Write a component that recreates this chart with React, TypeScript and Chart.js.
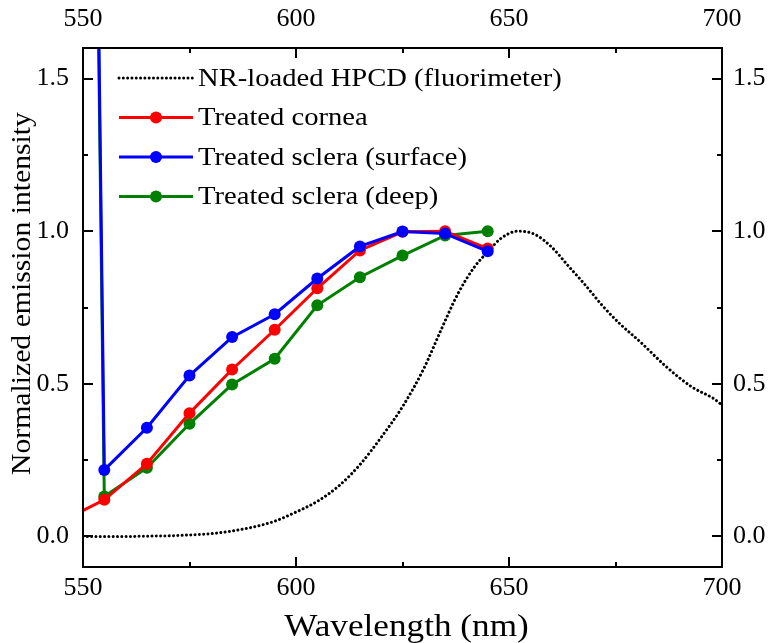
import React, { useEffect, useRef } from "react";
import { Chart, registerables } from "chart.js";

Chart.register(...registerables);

// ---- axis ranges & ticks ----
const X_MIN = 550;
const X_MAX = 700;
const Y_MIN = -0.1;
const Y_MAX = 1.6;
const xTickValues = [550, 600, 650, 700];
const xMinorTickValues = [575, 625, 675];
const yTickValues = [0, 0.5, 1.0, 1.5];
const yMinorTickValues = [0.25, 0.75, 1.25];

// ---- labels ----
const xTitle = "Wavelength (nm)";
const yTitle = "Normalized emission intensity";
const labelHpcd = "NR-loaded HPCD (fluorimeter)";
const labelCornea = "Treated cornea";
const labelSurface = "Treated sclera (surface)";
const labelDeep = "Treated sclera (deep)";

// ---- treated tissue series ----
const treatedWavelengths = [545, 555, 565, 575, 585, 595, 605, 615, 625, 635, 645];
const cornea = [0.05, 0.12, 0.238, 0.404, 0.547, 0.677, 0.813, 0.937, 0.998, 1.0, 0.943];
const scleraSurface = [11.3, 0.218, 0.356, 0.527, 0.653, 0.728, 0.845, 0.95, 0.999, 0.992, 0.934];
const scleraDeep = [11.3, 0.131, 0.225, 0.369, 0.498, 0.582, 0.757, 0.849, 0.92, 0.986, 1.0];

// ---- fluorimeter spectrum ----
const hpcdWavelengths = [550, 555, 560, 565, 570, 575, 580, 585, 590, 595, 600, 605, 610, 615, 620, 625, 630, 634, 638, 642, 645, 648, 652, 656, 660, 664, 668, 672, 676, 681, 687, 693, 698, 700];
const hpcdIntensity = [0, 0, 0, 0.001, 0.002, 0.005, 0.009, 0.018, 0.031, 0.05, 0.08, 0.115, 0.165, 0.235, 0.325, 0.425, 0.55, 0.675, 0.795, 0.885, 0.932, 0.975, 1.0, 0.99, 0.948, 0.885, 0.822, 0.755, 0.697, 0.635, 0.555, 0.489, 0.452, 0.43];

const FONT = "'Liberation Serif', 'Times New Roman', serif";
const RED = "#ff0000";
const BLUE = "#0000ff";
const GREEN = "#008000";

const toPoints = (xs: number[], ys: number[]) => xs.map((x, i) => ({ x, y: ys[i] }));

const legendItems = [
  { label: labelHpcd, color: "#000", dotted: true },
  { label: labelCornea, color: RED, dotted: false },
  { label: labelSurface, color: BLUE, dotted: false },
  { label: labelDeep, color: GREEN, dotted: false },
];

const decorPlugin = {
  id: "decor",
  afterDraw(chart: any) {
    const { ctx, chartArea: a, scales } = chart;
    const xs = scales.x;
    const ys = scales.y;
    ctx.save();
    ctx.strokeStyle = "#000";
    ctx.lineWidth = 2;
    ctx.lineCap = "butt";
    const xTick = (v: number, len: number) => {
      const px = Math.round(xs.getPixelForValue(v));
      ctx.beginPath();
      ctx.moveTo(px, a.bottom);
      ctx.lineTo(px, a.bottom - len);
      ctx.moveTo(px, a.top);
      ctx.lineTo(px, a.top + len);
      ctx.stroke();
    };
    const yTick = (v: number, len: number) => {
      const py = Math.round(ys.getPixelForValue(v));
      ctx.beginPath();
      ctx.moveTo(a.left, py);
      ctx.lineTo(a.left + len, py);
      ctx.moveTo(a.right, py);
      ctx.lineTo(a.right - len, py);
      ctx.stroke();
    };
    xTickValues.forEach((v) => xTick(v, 10));
    xMinorTickValues.forEach((v) => xTick(v, 5));
    yTickValues.forEach((v) => yTick(v, 10));
    yMinorTickValues.forEach((v) => yTick(v, 5));

    // legend
    const rowY0 = a.top + 30;
    const rowGap = 39.5;
    const x0 = a.left + 36;
    const x1 = a.left + 110;
    const textX = a.left + 115;
    legendItems.forEach((it, i) => {
      const y = rowY0 + i * rowGap;
      ctx.save();
      ctx.strokeStyle = it.color;
      if (it.dotted) {
        ctx.lineWidth = 3;
        ctx.lineCap = "round";
        ctx.setLineDash([0.01, 4.3]);
      } else {
        ctx.lineWidth = 3;
      }
      ctx.beginPath();
      ctx.moveTo(x0, y);
      ctx.lineTo(x1, y);
      ctx.stroke();
      if (!it.dotted) {
        ctx.fillStyle = it.color;
        ctx.beginPath();
        ctx.arc((x0 + x1) / 2, y, 6, 0, Math.PI * 2);
        ctx.fill();
      }
      ctx.restore();
      ctx.save();
      ctx.fillStyle = "#000";
      ctx.font = `26px ${FONT}`;
      ctx.textBaseline = "middle";
      ctx.textAlign = "left";
      ctx.translate(textX, y + 1);
      ctx.scale(1.1, 1);
      ctx.fillText(it.label, 0, 0);
      ctx.restore();
    });

    // axis titles
    ctx.fillStyle = "#000";
    ctx.save();
    ctx.font = `32px ${FONT}`;
    ctx.textBaseline = "middle";
    ctx.textAlign = "center";
    ctx.translate((a.left + a.right) / 2 + 4, 628);
    ctx.scale(1.1, 1);
    ctx.fillText(xTitle, 0, 0);
    ctx.restore();

    ctx.save();
    ctx.font = `27px ${FONT}`;
    ctx.textBaseline = "middle";
    ctx.textAlign = "center";
    ctx.translate(23, (a.top + a.bottom) / 2 - 14);
    ctx.rotate(-Math.PI / 2);
    ctx.scale(1.1, 1);
    ctx.fillText(yTitle, 0, 0);
    ctx.restore();

    ctx.restore();
  },
};

export default function App() {
  const canvasRef = useRef<HTMLCanvasElement | null>(null);

  useEffect(() => {
    const canvas = canvasRef.current;
    if (!canvas) return;

    const tickFont = { family: FONT, size: 26 };
    const border = { display: true, color: "#000", width: 2, z: 1 };
    const grid = { display: false, drawTicks: false };

    const xScale = (position: string, height: number, padding: number) => ({
      type: "linear",
      position,
      min: X_MIN,
      max: X_MAX,
      grid,
      border,
      afterBuildTicks: (s: any) => {
        s.ticks = xTickValues.map((v) => ({ value: v }));
      },
      afterFit: (s: any) => {
        s.height = height;
      },
      ticks: {
        autoSkip: false,
        maxRotation: 0,
        font: tickFont,
        color: "#000",
        padding,
        callback: (v: any) => String(v),
      },
    });

    const yScale = (position: string, width: number, padding: number) => ({
      type: "linear",
      position,
      min: Y_MIN,
      max: Y_MAX,
      grid,
      border,
      afterBuildTicks: (s: any) => {
        s.ticks = yTickValues.map((v) => ({ value: v }));
      },
      afterFit: (s: any) => {
        s.width = width;
      },
      ticks: {
        autoSkip: false,
        font: tickFont,
        color: "#000",
        padding,
        callback: (v: any) => Number(v).toFixed(1),
      },
    });

    const lineStyle = (color: string, order: number) => ({
      borderColor: color,
      backgroundColor: color,
      pointBackgroundColor: color,
      pointBorderColor: color,
      borderWidth: 3,
      pointRadius: 6,
      pointBorderWidth: 0,
      tension: 0,
      fill: false,
      clip: 0,
      order,
    });

    const chart = new Chart(canvas, {
      type: "line",
      data: {
        datasets: [
          {
            label: labelHpcd,
            data: toPoints(hpcdWavelengths, hpcdIntensity),
            borderColor: "#000",
            borderWidth: 3,
            borderDash: [0.01, 4.3],
            borderCapStyle: "round",
            pointRadius: 0,
            cubicInterpolationMode: "monotone",
            fill: false,
            clip: 0,
            order: 4,
          } as any,
          { label: labelCornea, data: toPoints(treatedWavelengths, cornea), ...lineStyle(RED, 2) } as any,
          { label: labelSurface, data: toPoints(treatedWavelengths, scleraSurface), ...lineStyle(BLUE, 1) } as any,
          { label: labelDeep, data: toPoints(treatedWavelengths, scleraDeep), ...lineStyle(GREEN, 3) } as any,
        ],
      },
      options: {
        responsive: false,
        animation: false,
        events: [],
        layout: { padding: 0 },
        plugins: {
          legend: { display: false },
          tooltip: { enabled: false },
          title: { display: false },
        },
        scales: {
          x: xScale("bottom", 76, 6),
          x2: xScale("top", 48, 13),
          y: yScale("left", 83, 14),
          y2: yScale("right", 46, 11),
        } as any,
      },
      plugins: [decorPlugin],
    });

    return () => chart.destroy();
  }, []);

  return (
    <div style={{ position: "absolute", left: 0, top: 0, width: 768, height: 643, background: "#fff" }}>
      <canvas ref={canvasRef} width={768} height={643} style={{ display: "block" }} />
    </div>
  );
}
